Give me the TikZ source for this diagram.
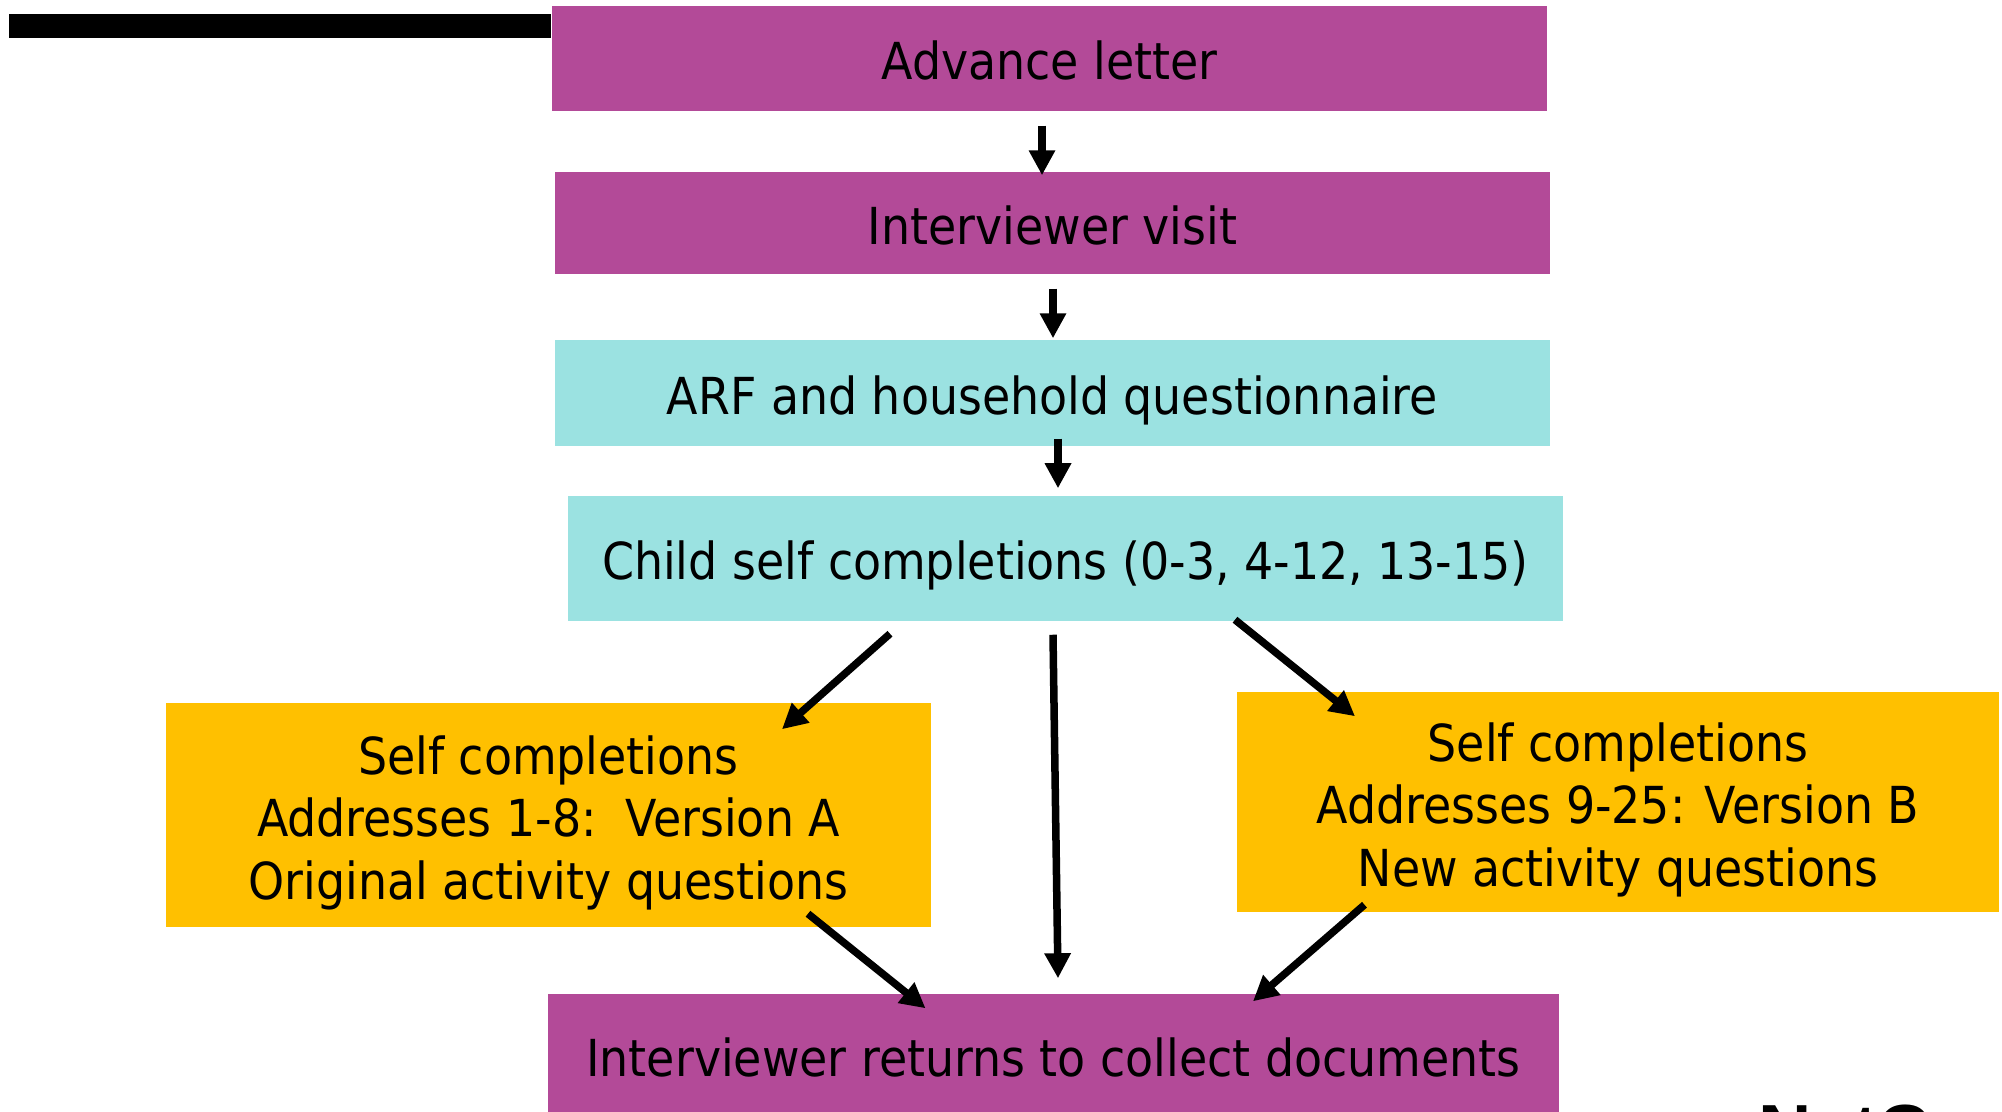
\documentclass[tikz,border=0pt]{standalone}
\usepackage{fontspec}
\setmainfont{DejaVu Sans Condensed}
\newfontfamily\logofont{Liberation Sans}
\usetikzlibrary{arrows.meta,calc}
\definecolor{visitPurple}{RGB}{179,74,152}
\definecolor{formCyan}{RGB}{155,226,225}
\definecolor{selfGold}{RGB}{255,192,0}
\newcommand{\topstrut}{\rule{0pt}{1.07em}}
\newcommand{\boxstrut}{\rule[-0.24em]{0pt}{1.31em}}

\begin{document}
\begin{tikzpicture}[%
    x=0.01cm, y=-0.01cm,
    box/.style={inner sep=0pt, align=center, font=\fontsize{14.5pt}{17.8pt}\selectfont},
    oneline/.style={box, execute at begin node=\boxstrut},
    purplebox/.style={oneline, fill=visitPurple},
    cyanbox/.style={oneline, fill=formCyan},
    goldbox/.style={box, fill=selfGold},
    arr/.style={line width=0.075cm, -{Triangle[width=0.25cm,length=0.25cm]}},
    ]
    \useasboundingbox (0,0) rectangle (2002,1112);
    \clip (0,0) rectangle (2002,1112);
    % main column
    \node[purplebox, minimum width=9.95cm, minimum height=1.05cm] (adv) at (1049.5,58.5) {Advance letter};
    \node[purplebox, minimum width=9.95cm, minimum height=1.02cm] (visit) at (1052.5,223) {Interviewer visit};
    \node[cyanbox, minimum width=9.95cm, minimum height=1.06cm] (arf) at (1052.5,393) {ARF and household questionnaire};
    \node[cyanbox, minimum width=9.95cm, minimum height=1.25cm] (child) at (1065.5,558.5) {Child self completions (0-3, 4-12, 13-15)};
    % the two versions
    \node[goldbox, minimum width=7.65cm, minimum height=2.24cm] (selfa) at (548.5,815) {\topstrut Self completions\\Addresses 1-8:~~Version A\\Original activity questions};
    \node[goldbox, minimum width=7.62cm, minimum height=2.20cm] (selfb) at (1618,802) {\topstrut Self completions\\Addresses 9-25: Version B\\New activity questions};
    \node[purplebox, minimum width=10.11cm, minimum height=1.22cm] (back) at (1053.5,1055) {Interviewer returns to collect documents};
    % bar and logo
    \coordinate (barend) at (9,26);
    \draw[line width=0.24cm] (barend) -- (adv.west |- barend);
    \node[anchor=north west, inner sep=0pt, font=\logofont\bfseries\fontsize{21pt}{21pt}\selectfont] (logo) at (1758,1104) {NatCen};
    % arrows
    \draw[arr] ($(adv.south)+(-7.5,14)$) -- ($(visit.north)+(-10.5,4)$);
    \draw[arr] ($(visit.south)+(0.5,14)$) -- ($(arf.north)+(0.5,-1)$);
    \draw[arr] ($(arf.south)+(5.5,-8)$) -- ($(child.north)+(-7.5,-7)$);
    \draw[arr] ($(child.south)+(-175.5,12)$) -- ($(selfa.north)+(233.5,27)$);
    \draw[arr] ($(child.south)+(-12.5,13)$) -- ($(back.north)+(4.5,-15)$);
    \draw[arr] ($(child.south)+(169.5,-2)$) -- ($(selfb.north)+(-263,25)$);
    \draw[arr] ($(selfa.south)+(259.5,-14)$) -- ($(back.north)+(-128,15)$);
    \draw[arr] ($(selfb.south)+(-253.5,-8)$) -- ($(back.north)+(199.5,8)$);
\end{tikzpicture}
\end{document}
